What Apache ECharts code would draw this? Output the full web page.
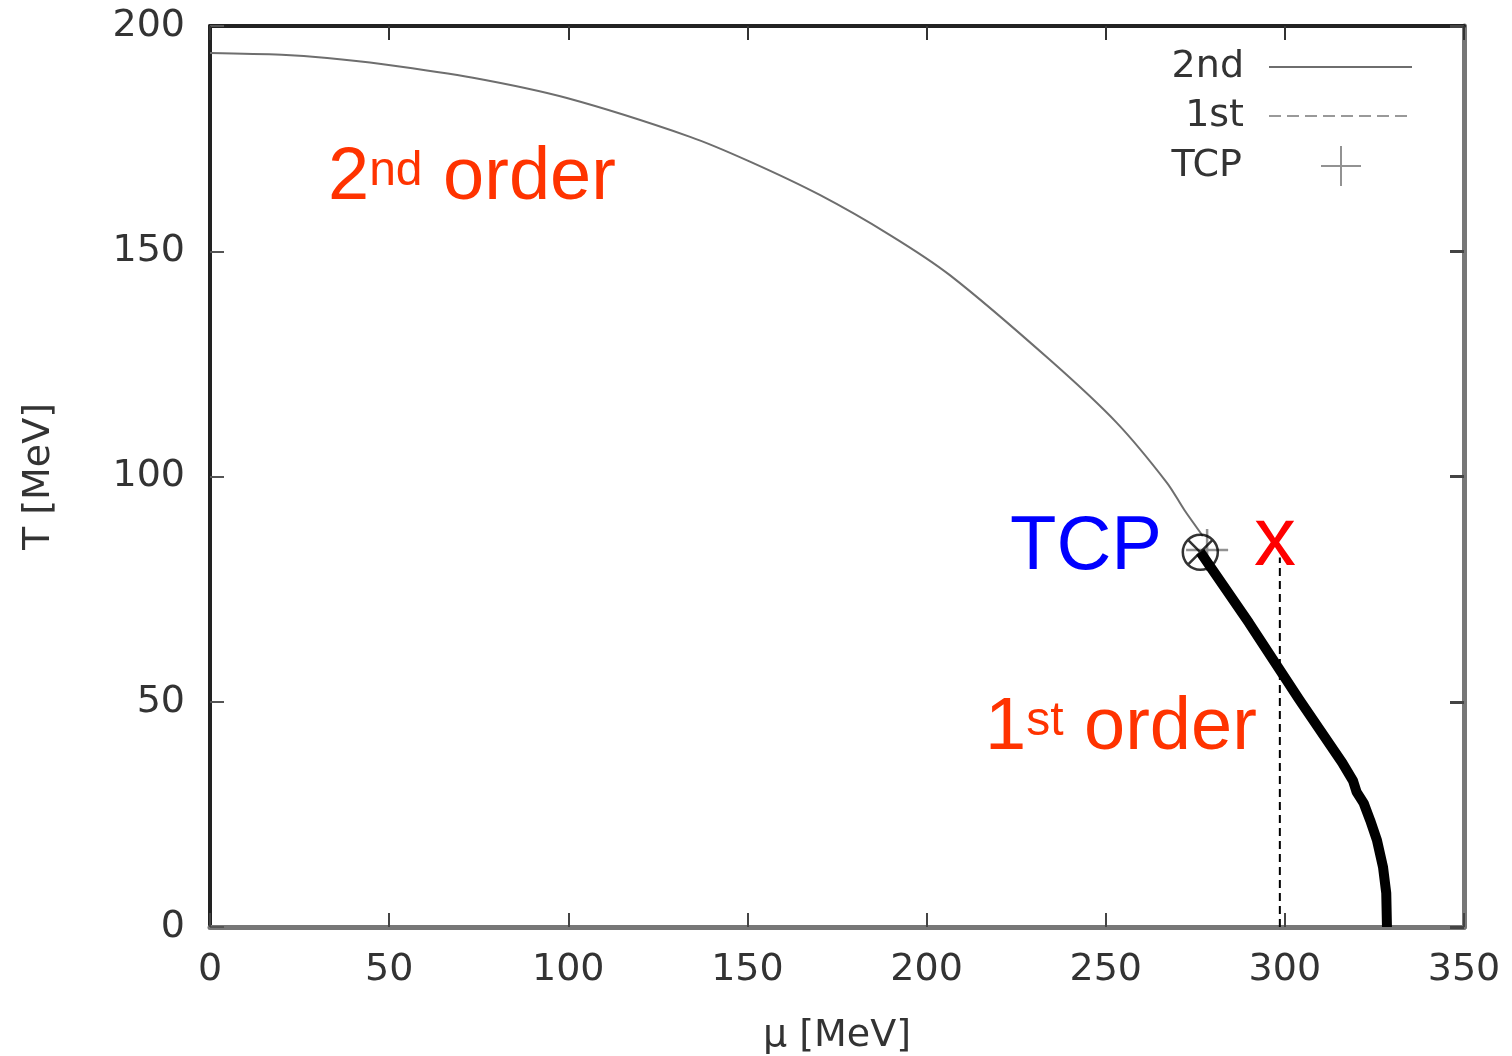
<!DOCTYPE html>
<html>
<head>
<meta charset="utf-8">
<script src="https://cdn.jsdelivr.net/npm/echarts@6/dist/echarts.min.js"></script>
<style>
  html, body { margin: 0; padding: 0; background: #fff; }
  #main { width: 1512px; height: 1056px; }
</style>
</head>
<body>
<div id="main"></div>
<script>
// phase diagram: mu [MeV] vs T [MeV]
const muTicks = [0, 50, 100, 150, 200, 250, 300, 350];
const tTicks = [0, 50, 100, 150, 200];

// 2nd order line (gnuplot, thin gray)
const secondOrder = [
  [0, 194], [20, 193.6], [32.7, 192.9], [48.3, 191.5], [73.4, 188.5], [99.6, 184], [134, 175.4],
  [150.7, 169.9], [170.2, 162.5], [189.8, 153.6], [206.5, 144.7], [234.4, 125.9],
  [253.1, 111.9], [267.1, 98.6], [272, 92.5], [277.1, 86.8]
];
// 1st order line
const firstOrder = [
  [276.4, 83.2], [290, 67.5], [304, 50.5], [316, 36.5], [319, 32.5], [320, 30],
  [322, 27.5], [323.8, 23.7], [325.7, 19.3], [327.4, 13.3], [328.3, 7.5], [328.5, 0]
];
const tcpPoint = [[278.3, 83.7]];
const tcpCircle = [[276.4, 83.2]];
const guideLine = [[298.6, 0], [298.6, 82]];

const axisFont = 'DejaVu Sans';
const textFont = '"Liberation Sans", Arial, sans-serif';

const chart = echarts.init(document.getElementById('main'));

function legendFor(name, top, opts) {
  return Object.assign({
    data: [name],
    orient: 'vertical',
    align: 'right',
    right: 99,
    top: top,
    padding: 0,
    itemWidth: 143,
    itemHeight: 40,
    selectedMode: false,
    itemStyle: { opacity: 0 },
    textStyle: { fontFamily: axisFont, fontSize: 38, color: '#333', padding: [0, 20, 0, 0] }
  }, opts || {});
}

const option = {
  backgroundColor: '#fff',
  animation: false,
  grid: { left: 210, right: 48, top: 26, bottom: 129, containLabel: false, outerBoundsMode: 'none' },
  legend: [
    legendFor('2nd', 48),
    legendFor('1st', 97),
    legendFor('TCP', 145, {
      right: 150, itemWidth: 40,
      itemStyle: {},
      textStyle: { fontFamily: axisFont, fontSize: 38, color: '#333', padding: [0, 74, 0, 0] }
    })
  ],
  xAxis: [{
    type: 'value',
    position: 'bottom',
    min: muTicks[0], max: muTicks[muTicks.length - 1], interval: muTicks[1] - muTicks[0],
    name: 'μ [MeV]',
    nameLocation: 'middle',
    nameGap: 90,
    nameTextStyle: { fontFamily: axisFont, fontSize: 38, color: '#333' },
    axisLine: { onZero: false, lineStyle: { color: '#777', width: 5 } },
    axisTick: { inside: true, length: 14, lineStyle: { color: '#444', width: 2 } },
    axisLabel: { fontFamily: axisFont, fontSize: 38, color: '#333', margin: 24 },
    splitLine: { show: false }
  }, {
    type: 'value',
    position: 'top',
    min: muTicks[0], max: muTicks[muTicks.length - 1], interval: muTicks[1] - muTicks[0],
    axisLine: { onZero: false, lineStyle: { color: '#222', width: 4 } },
    axisTick: { inside: true, length: 14, lineStyle: { color: '#333', width: 2 } },
    axisLabel: { show: false },
    splitLine: { show: false }
  }],
  yAxis: [{
    type: 'value',
    position: 'left',
    min: tTicks[0], max: tTicks[tTicks.length - 1], interval: tTicks[1] - tTicks[0],
    name: 'T [MeV]',
    nameLocation: 'middle',
    nameGap: 152,
    nameRotate: 90,
    nameTextStyle: { fontFamily: axisFont, fontSize: 38, color: '#333' },
    axisLine: { onZero: false, lineStyle: { color: '#222', width: 4 } },
    axisTick: { inside: true, length: 14, lineStyle: { color: '#555', width: 2 } },
    axisLabel: { fontFamily: axisFont, fontSize: 38, color: '#333', margin: 25 },
    splitLine: { show: false }
  }, {
    type: 'value',
    position: 'right',
    min: tTicks[0], max: tTicks[tTicks.length - 1], interval: tTicks[1] - tTicks[0],
    axisLine: { onZero: false, lineStyle: { color: '#777', width: 5 } },
    axisTick: { inside: true, length: 14, lineStyle: { color: '#444', width: 3 } },
    axisLabel: { show: false },
    splitLine: { show: false }
  }],
  series: [
    {
      name: '2nd', type: 'line', data: secondOrder, smooth: 0.3,
      symbol: 'none', silent: true, z: 3,
      itemStyle: { color: '#6e6e6e' },
      lineStyle: { color: '#6e6e6e', width: 2 }
    },
    {
      name: '1st', type: 'line', data: firstOrder,
      symbol: 'none', silent: true, z: 2,
      itemStyle: { color: '#999' },
      lineStyle: { color: '#999', width: 2.5, type: [12, 6] }
    },
    {
      name: '1st order', type: 'line', data: firstOrder,
      symbol: 'none', silent: true, z: 4,
      lineStyle: { color: '#000', width: 10, join: 'round', cap: 'butt' }
    },
    {
      name: 'TCP', type: 'scatter', data: tcpPoint,
      symbol: 'path://M0,10L20,10M10,0L10,20', symbolSize: 42, silent: true, z: 3,
      itemStyle: { color: 'rgba(0,0,0,0)', borderColor: '#777', borderWidth: 2.5 }
    },
    {
      name: 'TCP mark', type: 'scatter', data: tcpCircle,
      symbol: 'path://M2,20A18,18,0,1,1,38,20A18,18,0,1,1,2,20Z M7.3,7.3L32.7,32.7M32.7,7.3L7.3,32.7',
      symbolSize: 35, silent: true, z: 5,
      itemStyle: { color: 'rgba(0,0,0,0)', borderColor: '#000', borderWidth: 2.5 }
    },
    {
      name: 'guide', type: 'line', data: guideLine,
      symbol: 'none', silent: true, z: 4,
      lineStyle: { color: '#000', width: 2, type: [8, 5] }
    }
  ],
  graphic: [
    {
      type: 'text', x: 328, y: 134, silent: true,
      style: {
        text: '{a|2}{b|nd}{a| order}',
        rich: {
          a: { fontFamily: textFont, fontSize: 74, lineHeight: 82, verticalAlign: 'bottom', fill: '#ff3300' },
          b: { fontFamily: textFont, fontSize: 48, lineHeight: 48, verticalAlign: 'top', padding: [14, 0, 0, 0], fill: '#ff3300' }
        }
      }
    },
    {
      type: 'text', x: 985, y: 684, silent: true,
      style: {
        text: '{a|1}{b|st}{a| order}',
        rich: {
          a: { fontFamily: textFont, fontSize: 74, lineHeight: 82, verticalAlign: 'bottom', fill: '#ff3300' },
          b: { fontFamily: textFont, fontSize: 48, lineHeight: 48, verticalAlign: 'top', padding: [14, 0, 0, 0], fill: '#ff3300' }
        }
      }
    },
    {
      type: 'text', x: 1010, y: 548, silent: true,
      style: { text: 'TCP', fontFamily: textFont, fontSize: 76, fill: '#0000ff', verticalAlign: 'middle' }
    },
    {
      type: 'text', x: 1254, y: 542, silent: true,
      style: { text: 'x', fontFamily: textFont, fontSize: 84, fill: '#ff0000', verticalAlign: 'middle' }
    }
  ]
};

chart.setOption(option);
</script>
</body>
</html>
